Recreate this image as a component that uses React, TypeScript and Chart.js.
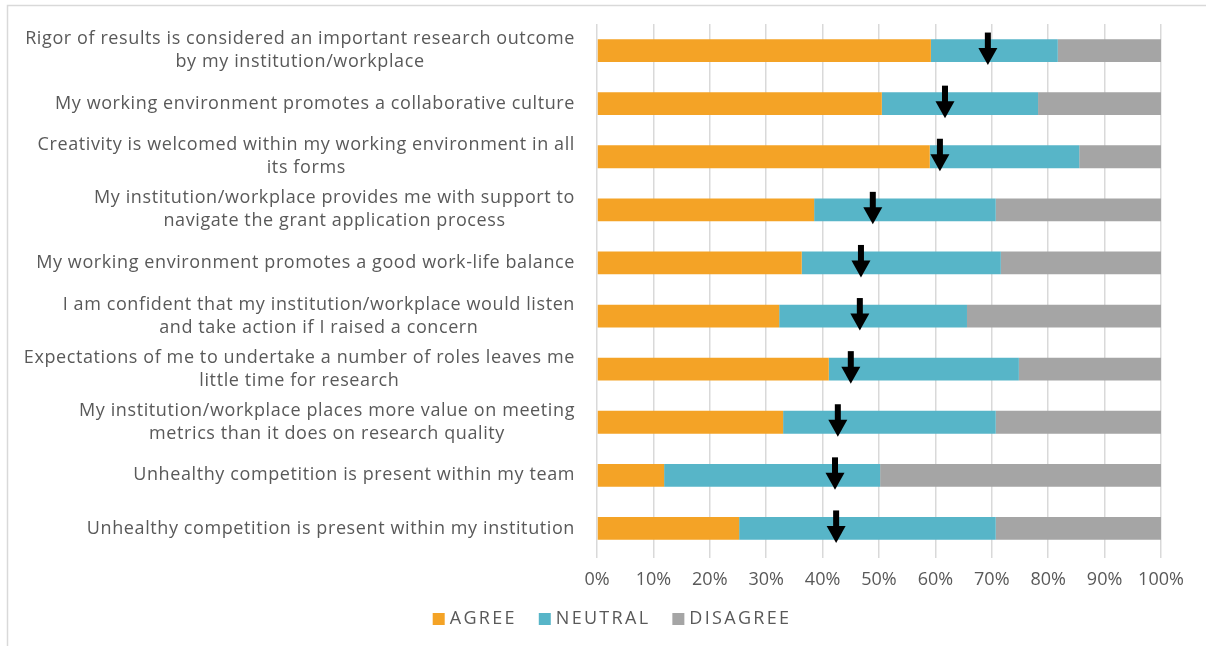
import React, { useEffect, useRef } from "react";
import { Chart, registerables } from "chart.js";

Chart.register(...registerables);

const categories: (string | string[])[] = [
  ["Rigor of results is considered an important research outcome", "by my institution/workplace"],
  "My working environment promotes a collaborative culture",
  ["Creativity is welcomed within my working environment in all", "its forms"],
  ["My institution/workplace provides me with support to", "navigate the grant application process"],
  "My working environment promotes a good work-life balance",
  ["I am confident that my institution/workplace would listen", "and take action if I raised a concern"],
  ["Expectations of me to undertake a number of roles leaves me", "little time for research"],
  ["My institution/workplace places more value on meeting", "metrics than it does on research quality"],
  "Unhealthy competition is present within my team",
  "Unhealthy competition is present within my institution",
];

const agree = [59.2, 50.5, 59.0, 38.5, 36.3, 32.3, 41.1, 33.0, 11.9, 25.2];
const neutral = [22.5, 27.7, 26.5, 32.2, 35.3, 33.3, 33.7, 37.7, 38.3, 45.5];
const disagree = [18.3, 21.8, 14.5, 29.3, 28.4, 34.4, 25.2, 29.3, 49.8, 29.3];
const arrowMarkers = [69.3, 61.7, 60.8, 48.9, 46.8, 46.6, 45.0, 42.7, 42.2, 42.4];

const seriesNames = ["AGREE", "NEUTRAL", "DISAGREE"];
const seriesColors = ["#F4A326", "#57B5C8", "#A5A5A5"];

const FONT = "'Open Sans', sans-serif";
const TEXT = "#595959";

export default function App() {
  const ref = useRef<HTMLCanvasElement>(null);

  useEffect(() => {
    document.body.style.margin = "0";
    const canvas = ref.current!;

    const framePlugin = {
      id: "frame",
      beforeDraw(chart: any) {
        const ctx = chart.ctx;
        ctx.save();
        ctx.fillStyle = "#ffffff";
        ctx.fillRect(0, 0, chart.width, chart.height);
        ctx.strokeStyle = "#d9d9d9";
        ctx.lineWidth = 1.5;
        ctx.beginPath();
        ctx.moveTo(7.5, chart.height);
        ctx.lineTo(7.5, 5.5);
        ctx.lineTo(chart.width, 5.5);
        ctx.stroke();
        ctx.restore();
      },
    };

    const labelPlugin = {
      id: "rowLabels",
      afterDraw(chart: any) {
        const ctx = chart.ctx;
        const y = chart.scales.y;
        const right = chart.chartArea.left - 22;
        ctx.save();
        ctx.font = `18px ${FONT}`;
        (ctx as any).letterSpacing = "0.6px";
        ctx.fillStyle = TEXT;
        ctx.textAlign = "center";
        ctx.textBaseline = "middle";
        categories.forEach((lab, i) => {
          const lines = Array.isArray(lab) ? lab : [lab];
          const widest = Math.max(...lines.map((l) => ctx.measureText(l).width));
          const cx = right - widest / 2;
          const yc = y.getPixelForValue(i);
          const lh = 23;
          lines.forEach((l, j) => {
            ctx.fillText(l, cx, yc + (j - (lines.length - 1) / 2) * lh);
          });
        });
        ctx.restore();
      },
    };

    const arrowPlugin = {
      id: "arrows",
      afterDatasetsDraw(chart: any) {
        const ctx = chart.ctx;
        const xs = chart.scales.x;
        const ys = chart.scales.y;
        ctx.save();
        ctx.fillStyle = "#000000";
        arrowMarkers.forEach((v, i) => {
          const x = xs.getPixelForValue(v);
          const yc = ys.getPixelForValue(i);
          ctx.fillRect(x - 3, yc - 18, 6, 17);
          ctx.beginPath();
          ctx.moveTo(x - 9.5, yc - 2.5);
          ctx.lineTo(x + 9.5, yc - 2.5);
          ctx.lineTo(x, yc + 14.5);
          ctx.closePath();
          ctx.fill();
        });
        ctx.restore();
      },
    };

    const legendPlugin = {
      id: "customLegend",
      afterDraw(chart: any) {
        const ctx = chart.ctx;
        ctx.save();
        ctx.font = `18px ${FONT}`;
        (ctx as any).letterSpacing = "2.3px";
        ctx.textBaseline = "middle";
        ctx.textAlign = "left";
        const box = 12;
        const gap = 5;
        const itemGap = 22;
        const widths = seriesNames.map((n) => ctx.measureText(n).width);
        const total = widths.reduce((a, w) => a + box + gap + w, 0) + itemGap * (seriesNames.length - 1);
        let x = 612 - total / 2;
        const yc = 619;
        seriesNames.forEach((n, i) => {
          ctx.fillStyle = seriesColors[i];
          ctx.fillRect(x, yc - box / 2, box, box);
          ctx.fillStyle = TEXT;
          ctx.fillText(n, x + box + gap, yc);
          x += box + gap + widths[i] + itemGap;
        });
        ctx.restore();
      },
    };

    const series = [agree, neutral, disagree];
    const chart = new Chart(canvas, {
      type: "bar",
      data: {
        labels: categories.map((c) => (Array.isArray(c) ? c.join(" ") : c)),
        datasets: series.map((d, i) => ({
          label: seriesNames[i],
          data: d,
          backgroundColor: seriesColors[i],
          borderWidth: 0,
          barPercentage: 0.43,
          categoryPercentage: 1,
        })),
      },
      options: {
        animation: false,
        responsive: false,
        devicePixelRatio: 1,
        indexAxis: "y",
        layout: { padding: { left: 0, right: 45, top: 24, bottom: 49 } },
        plugins: {
          legend: { display: false },
          tooltip: { enabled: false },
        },
        scales: {
          x: {
            stacked: true,
            min: 0,
            max: 100,
            ticks: {
              stepSize: 10,
              callback: (v: any) => v + "%",
              color: TEXT,
              font: { family: FONT, size: 18 },
              padding: 11,
            },
            grid: { color: "#d9d9d9", lineWidth: 1.5, tickLength: 3 },
            border: { display: false },
            afterFit: (s: any) => {
              s.height = 42;
            },
          },
          y: {
            stacked: true,
            ticks: { display: false },
            grid: { display: false },
            border: { display: false },
            afterFit: (s: any) => {
              s.width = 597;
            },
          },
        },
      },
      plugins: [framePlugin, arrowPlugin, labelPlugin, legendPlugin],
    } as any);

    return () => chart.destroy();
  }, []);

  return (
    <div style={{ position: "absolute", left: 0, top: 0, width: 1206, height: 646 }}>
      <canvas ref={ref} width={1206} height={646} style={{ display: "block" }} />
    </div>
  );
}
